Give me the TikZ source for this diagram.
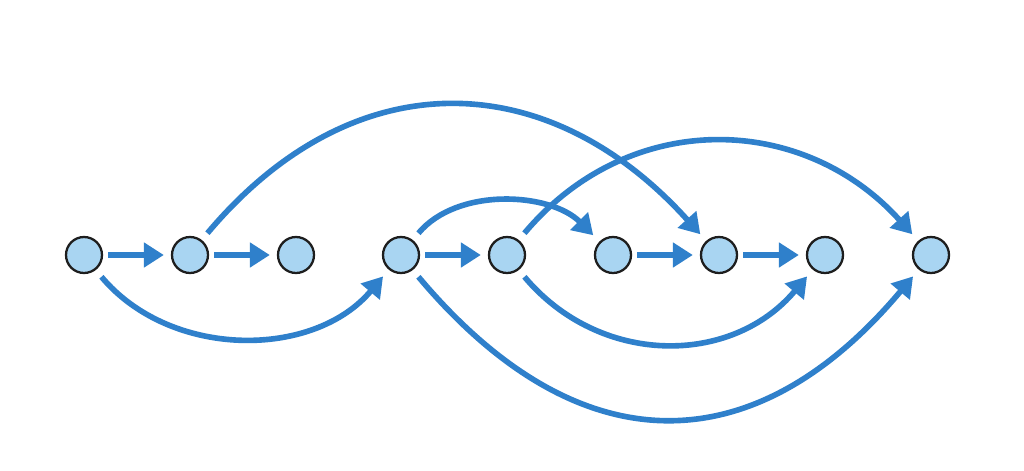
\documentclass[tikz,border=0pt]{standalone}
\usetikzlibrary{arrows.meta}
\definecolor{edgeblue}{HTML}{2F80CB}
\definecolor{nodefill}{HTML}{A9D5F2}
\definecolor{nodeline}{HTML}{1E1E1E}
\begin{document}
\begin{tikzpicture}[x=0.02cm,y=-0.02cm,
  dot/.style={circle,draw=nodeline,fill=nodefill,line width=1.3pt,minimum size=0.72cm,inner sep=0pt},
  arr/.style={draw=edgeblue,line width=3.2pt,-{Triangle[length=0.4cm,width=0.48cm]},shorten >=5pt,shorten <=5pt},
  sarr/.style={arr,shorten >=4pt,shorten <=3pt}]
\useasboundingbox (0,0) rectangle (1024,470);
\fill[white] (0,0) rectangle (1024,470);
\foreach \i/\x in {1/84,2/190,3/296,4/401,5/507,6/613,7/719,8/825,9/931}
  \node[dot] (n\i) at (\x,255) {};
% straight
\draw[sarr] (n1) -- (n2);
\draw[sarr] (n2) -- (n3);
\draw[sarr] (n4) -- (n5);
\draw[sarr] (n6) -- (n7);
\draw[sarr] (n7) -- (n8);
% curves
\draw[arr] (n1.-52) to[out=-50,in=-130,looseness=1.02] (n4.-130);
\draw[arr] (n2.52) to[out=50,in=132,looseness=1.2] (n7.132);
\draw[arr] (n4.52) to[out=50,in=135,looseness=0.95] (n6.135);
\draw[arr] (n4.-52) to[out=-50,in=-130,looseness=1.3] (n9.-130);
\draw[arr] (n5.52) to[out=50,in=132,looseness=1.1] (n9.132);
\draw[arr] (n5.-52) to[out=-50,in=-130,looseness=1.1] (n8.-130);
\end{tikzpicture}
\end{document}
